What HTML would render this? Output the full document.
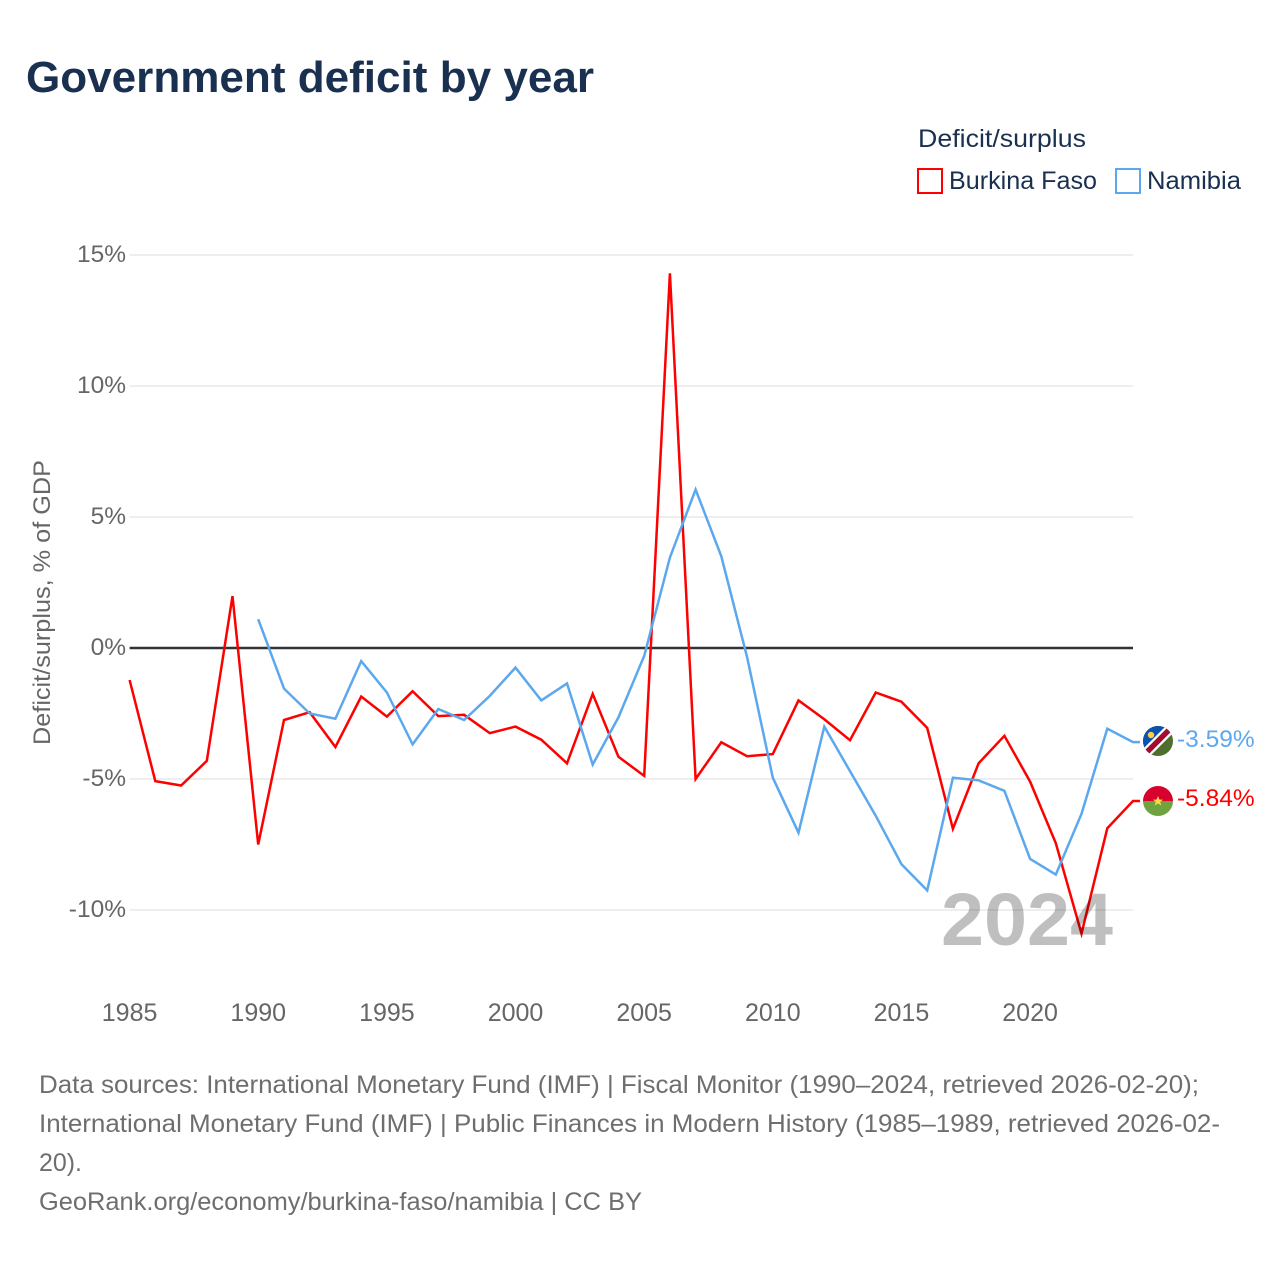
<!DOCTYPE html>
<html lang="en">
<head>
<meta charset="utf-8">
<title>Government deficit by year</title>
<style>
html,body{margin:0;padding:0;background:#fff;width:1280px;height:1280px;overflow:hidden}
svg{display:block}
text{font-family:"Liberation Sans",sans-serif}
</style>
</head>
<body>
<svg id="chart" xmlns="http://www.w3.org/2000/svg" width="1280" height="1280" viewBox="0 0 1280 1280">
  <rect width="1280" height="1280" fill="#fff"/>
  <text x="26" y="92" font-size="44" font-weight="700" fill="#1a3050" textLength="568" lengthAdjust="spacingAndGlyphs">Government deficit by year</text>

  <text x="918" y="147" font-size="25" fill="#1a3050" textLength="168" lengthAdjust="spacingAndGlyphs">Deficit/surplus</text>
  <rect x="918" y="169" width="24" height="24" fill="#fff" stroke="#ff0000" stroke-width="2"/>
  <text x="949" y="189" font-size="25" fill="#1a3050" textLength="148" lengthAdjust="spacingAndGlyphs">Burkina Faso</text>
  <rect x="1116" y="169" width="24" height="24" fill="#fff" stroke="#5ca8ee" stroke-width="2"/>
  <text x="1147" y="189" font-size="25" fill="#1a3050" textLength="94" lengthAdjust="spacingAndGlyphs">Namibia</text>

  <text transform="translate(50,745) rotate(-90)" font-size="24.5" fill="#666" textLength="285" lengthAdjust="spacingAndGlyphs">Deficit/surplus, % of GDP</text>

  <g id="grid"></g>
  <g id="yticks"></g>
  <g id="xticks"></g>
  <line id="zero" stroke="#333" stroke-width="2.4"/>
  <g id="series"></g>

  <text x="1113" y="945" text-anchor="end" font-size="74" font-weight="700" fill="#000" fill-opacity="0.25" textLength="172" lengthAdjust="spacingAndGlyphs">2024</text>

  <defs>
    <clipPath id="clip-na"><circle cx="1158" cy="741" r="15"/></clipPath>
    <clipPath id="clip-bf"><circle cx="1158" cy="801" r="15"/></clipPath>
  </defs>
  <g id="flag-namibia" clip-path="url(#clip-na)">
    <rect x="1143" y="726" width="30" height="30" fill="#4f6f2f"/>
    <polygon points="1143,726 1173,726 1143,756" fill="#0a52b0"/>
    <line x1="1140" y1="759" x2="1176" y2="723" stroke="#fff" stroke-width="10"/>
    <line x1="1140" y1="759" x2="1176" y2="723" stroke="#a30d2d" stroke-width="5.5"/>
    <circle cx="1151" cy="735" r="3.2" fill="#ffce3a"/>
  </g>
  <g id="flag-burkina" clip-path="url(#clip-bf)">
    <rect x="1143" y="786" width="30" height="15" fill="#d8002c"/>
    <rect x="1143" y="801" width="30" height="15" fill="#6fa33f"/>
    <polygon points="1158,796 1159.5,799.6 1163.2,799.6 1160.2,801.9 1161.3,805.6 1158,803.4 1154.7,805.6 1155.8,801.9 1152.8,799.6 1156.5,799.6" fill="#ffd84a"/>
  </g>

  <text x="39" y="1093" font-size="25" fill="#6e6e6e" textLength="1160" lengthAdjust="spacingAndGlyphs">Data sources: International Monetary Fund (IMF) | Fiscal Monitor (1990–2024, retrieved 2026-02-20);</text>
  <text x="39" y="1132" font-size="25" fill="#6e6e6e" textLength="1181" lengthAdjust="spacingAndGlyphs">International Monetary Fund (IMF) | Public Finances in Modern History (1985–1989, retrieved 2026-02-</text>
  <text x="39" y="1171" font-size="25" fill="#6e6e6e" textLength="43" lengthAdjust="spacingAndGlyphs">20).</text>
  <text x="39" y="1210" font-size="25" fill="#6e6e6e" textLength="603" lengthAdjust="spacingAndGlyphs">GeoRank.org/economy/burkina-faso/namibia | CC BY</text>
</svg>
<script>
const years = [1985,1986,1987,1988,1989,1990,1991,1992,1993,1994,1995,1996,1997,1998,1999,2000,2001,2002,2003,2004,2005,2006,2007,2008,2009,2010,2011,2012,2013,2014,2015,2016,2017,2018,2019,2020,2021,2022,2023,2024];
const burkinaFaso = [-1.22,-5.08,-5.25,-4.31,1.98,-7.5,-2.75,-2.45,-3.78,-1.85,-2.62,-1.65,-2.6,-2.55,-3.25,-3.0,-3.5,-4.4,-1.75,-4.15,-4.88,14.3,-5.0,-3.6,-4.13,-4.05,-2.0,-2.72,-3.52,-1.7,-2.05,-3.05,-6.9,-4.4,-3.35,-5.1,-7.45,-10.9,-6.88,-5.84];
const namibia = [null,null,null,null,null,1.1,-1.55,-2.5,-2.7,-0.5,-1.7,-3.68,-2.33,-2.75,-1.83,-0.75,-2.0,-1.35,-4.45,-2.65,-0.3,3.45,6.05,3.5,-0.35,-4.95,-7.05,-3.0,-4.7,-6.4,-8.25,-9.25,-4.95,-5.05,-5.45,-8.05,-8.65,-6.33,-3.08,-3.59];
const yTickValues = [-10,-5,0,5,10,15];
const xTickYears = [1985,1990,1995,2000,2005,2010,2015,2020];

const NS = 'http://www.w3.org/2000/svg';
const plotLeft = 129.6, plotRight = 1133, zeroY = 648, pxPerUnit = 26.2;
const xScale = function (year) { return plotLeft + (year - 1985) * (plotRight - plotLeft) / 39; };
const yScale = function (value) { return zeroY - value * pxPerUnit; };

const grid = document.getElementById('grid');
const yticks = document.getElementById('yticks');
const xticks = document.getElementById('xticks');
const seriesGroup = document.getElementById('series');

yTickValues.forEach(function (v) {
  if (v !== 0) {
    const line = document.createElementNS(NS, 'line');
    
    
    line.setAttribute('x1', plotLeft);
    line.setAttribute('x2', plotRight);
    line.setAttribute('y1', yScale(v));
    line.setAttribute('y2', yScale(v));
    line.setAttribute('stroke', '#e8e8e8');
    line.setAttribute('stroke-width', '1.5');
    grid.appendChild(line);
  }
  const label = document.createElementNS(NS, 'text');
  
  
  label.setAttribute('x', 126);
  label.setAttribute('y', yScale(v) + 7);
  label.setAttribute('text-anchor', 'end');
  label.setAttribute('font-size', '24.5');
  label.setAttribute('fill', '#666');
  label.textContent = v + '%';
  yticks.appendChild(label);
});

xTickYears.forEach(function (yr) {
  const label = document.createElementNS(NS, 'text');
  
  
  label.setAttribute('x', xScale(yr));
  label.setAttribute('y', 1021);
  label.setAttribute('text-anchor', 'middle');
  label.setAttribute('font-size', '25');
  label.setAttribute('fill', '#666');
  label.textContent = yr;
  xticks.appendChild(label);
});

const zero = document.getElementById('zero');
zero.setAttribute('x1', plotLeft);
zero.setAttribute('x2', plotRight);
zero.setAttribute('y1', yScale(0));
zero.setAttribute('y2', yScale(0));

function pointsFor(values) {
  const pts = [];
  values.forEach(function (v, i) {
    if (v !== null) { pts.push(xScale(years[i]).toFixed(1) + ',' + yScale(v).toFixed(1)); }
  });
  const last = values[values.length - 1];
  pts.push((plotRight + 7) + ',' + yScale(last).toFixed(1));
  return pts.join(' ');
}

const redLine = document.createElementNS(NS, 'polyline');


redLine.setAttribute('points', pointsFor(burkinaFaso));
redLine.setAttribute('fill', 'none');
redLine.setAttribute('stroke', '#ff0000');
redLine.setAttribute('stroke-width', '2.5');
seriesGroup.appendChild(redLine);

const blueLine = document.createElementNS(NS, 'polyline');


blueLine.setAttribute('points', pointsFor(namibia));
blueLine.setAttribute('fill', 'none');
blueLine.setAttribute('stroke', '#5ca8ee');
blueLine.setAttribute('stroke-width', '2.5');
seriesGroup.appendChild(blueLine);

const redEnd = document.createElementNS(NS, 'text');


redEnd.setAttribute('x', 1177);
redEnd.setAttribute('y', yScale(burkinaFaso[burkinaFaso.length - 1]) + 5);
redEnd.setAttribute('font-size', '24.5');
redEnd.setAttribute('fill', '#ff0000');
redEnd.textContent = burkinaFaso[burkinaFaso.length - 1].toFixed(2) + '%';
document.getElementById('chart').appendChild(redEnd);

const blueEnd = document.createElementNS(NS, 'text');


blueEnd.setAttribute('x', 1177);
blueEnd.setAttribute('y', yScale(namibia[namibia.length - 1]) + 5);
blueEnd.setAttribute('font-size', '24.5');
blueEnd.setAttribute('fill', '#5ca8ee');
blueEnd.textContent = namibia[namibia.length - 1].toFixed(2) + '%';
document.getElementById('chart').appendChild(blueEnd);
</script>
</body>
</html>
